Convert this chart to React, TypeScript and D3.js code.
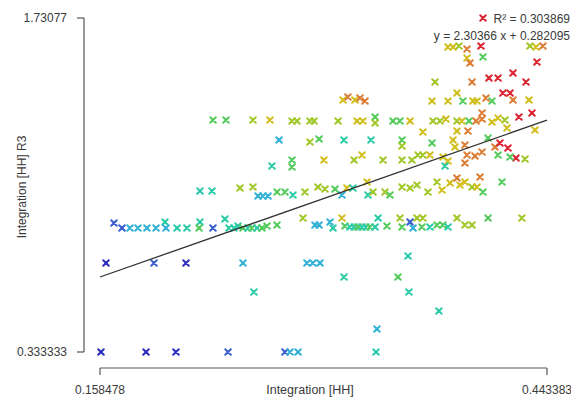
import React from "react";
import * as d3 from "d3";

// Integration [HH] (x)
const integrationHH: number[] = [
  0.1591, 0.1878, 0.2069, 0.2401, 0.2764, 0.2796, 0.2847, 0.3344, 0.3350, 0.3745,
  0.3554, 0.2566, 0.3140, 0.3484, 0.3548, 0.1623, 0.1929, 0.2133, 0.2496, 0.2904,
  0.2942, 0.2987, 0.1674, 0.1725, 0.1776, 0.1827, 0.1884, 0.1942, 0.1999, 0.2005,
  0.2076, 0.2139, 0.2222, 0.2216, 0.2305, 0.2381, 0.2407, 0.2439, 0.2464, 0.2496,
  0.2528, 0.2554, 0.2585, 0.2617, 0.2649, 0.2713, 0.2879, 0.2955, 0.3051, 0.3070,
  0.3127, 0.3146, 0.3178, 0.3204, 0.3229, 0.3255, 0.3280, 0.3306, 0.3338, 0.3357,
  0.3414, 0.3497, 0.3510, 0.3561, 0.3580, 0.3605, 0.3643, 0.3637, 0.3688, 0.3733,
  0.3771, 0.3803, 0.3860, 0.3911, 0.3956, 0.4058, 0.4274, 0.2981,
  0.2222, 0.2299, 0.2477, 0.2560, 0.2592, 0.2624, 0.2656, 0.2713, 0.2764, 0.2815,
  0.2891, 0.2974, 0.3019, 0.3083, 0.3127, 0.3159, 0.3197, 0.3287, 0.3293, 0.3325,
  0.3401, 0.3433, 0.3510, 0.3561, 0.3605, 0.3675, 0.3733, 0.3765, 0.3816, 0.3860,
  0.3879, 0.3911, 0.3956, 0.3988, 0.4007, 0.4026, 0.4147,
  0.2681, 0.2809, 0.2809, 0.3012, 0.3204, 0.3255, 0.3389, 0.3510, 0.3573, 0.3612,
  0.3643, 0.3688, 0.3771, 0.3803, 0.3784, 0.3911, 0.3924, 0.3975, 0.4020, 0.4102,
  0.4134, 0.4185, 0.4236, 0.4122, 0.4198, 0.4294,
  0.2726, 0.2923, 0.2981, 0.3140, 0.3312, 0.3510, 0.3510, 0.3701, 0.3835, 0.3847,
  0.3911, 0.4058,
  0.3643, 0.3860, 0.3930, 0.4179, 0.4357,
  0.2305, 0.2388, 0.2560, 0.2668, 0.2809, 0.2840, 0.2923, 0.2949, 0.3102, 0.3223,
  0.3261, 0.3338, 0.3338, 0.3452, 0.3497, 0.3561, 0.3707, 0.3752, 0.3790, 0.3860,
  0.3892, 0.3937, 0.3981, 0.4020, 0.4083, 0.4122, 0.4166,
  0.4020, 0.4255, 0.4338,
  0.3134, 0.3165, 0.3210, 0.3242, 0.3274, 0.3701, 0.3803, 0.3860, 0.3898, 0.3962,
  0.3988, 0.4045, 0.4083, 0.4153, 0.4198, 0.4217, 0.4319,
  0.3720, 0.3956, 0.4064, 0.4122, 0.4217, 0.4300,
  0.3924, 0.3943, 0.4026, 0.4370,
  0.3803, 0.3835, 0.3873, 0.3924, 0.4013, 0.4325, 0.4364, 0.4408,
  0.4026,
];

// Integration [HH] R3 (y)
const integrationR3: number[] = [
  0.3333, 0.3333, 0.3333, 0.3333, 0.3333, 0.3333, 0.3333, 0.3333, 0.4296, 0.5049,
  0.5844, 0.5844, 0.6471, 0.6471, 0.7350, 0.7057, 0.7057, 0.7057, 0.7057, 0.7057,
  0.7057, 0.7057, 0.8731, 0.8521, 0.8521, 0.8521, 0.8521, 0.8521, 0.8772, 0.8521,
  0.8521, 0.8521, 0.8772, 0.8521, 0.8521, 0.8898, 0.8521, 0.8521, 0.8605, 0.8521,
  0.8521, 0.8521, 0.8521, 0.8521, 0.8605, 0.8647, 0.8940, 0.8647, 0.8772, 0.8521,
  0.8940, 0.8605, 0.8563, 0.8563, 0.8563, 0.8563, 0.8563, 0.8563, 0.8563, 0.8940,
  0.8605, 0.8940, 0.8563, 0.8772, 0.8521, 0.8940, 0.8940, 0.8563, 0.8563, 0.8647,
  0.8647, 0.8563, 0.8940, 0.8647, 0.8647, 0.8940, 0.8940, 0.8647,
  1.0069, 1.0069, 1.0195, 1.0237, 0.9860, 0.9860, 0.9860, 1.0028, 1.0028, 0.9902,
  1.0028, 1.0237, 1.0153, 1.0153, 0.9902, 1.0195, 1.0195, 1.0446, 0.9902, 1.0028,
  1.0028, 0.9902, 1.0237, 1.0195, 1.0320, 1.0028, 1.0446, 1.0111, 1.0404, 1.0613,
  1.0320, 1.0446, 1.0237, 1.0237, 1.0655, 1.0028, 1.0446,
  1.1115, 1.1366, 1.1074, 1.1366, 1.1366, 1.1576, 1.1366, 1.1366, 1.1366, 1.1576,
  1.1576, 1.1576, 1.1492, 1.1325, 1.1115, 1.1241, 1.1576, 1.1534, 1.1701, 1.1910,
  1.2078, 1.1868, 1.1450, 1.1576, 1.1492, 1.1408,
  1.2203, 1.2119, 1.2245, 1.2203, 1.2203, 1.2203, 1.1952, 1.2078, 1.2203, 1.1910,
  1.1994, 1.2287,
  1.2538, 1.2580, 1.2580, 1.2705, 1.2622,
  1.3040, 1.3040, 1.3040, 1.3040, 1.2998, 1.2998, 1.2998, 1.2998, 1.2998, 1.2998,
  1.2998, 1.3165, 1.2914, 1.2998, 1.2998, 1.2998, 1.2998, 1.2998, 1.3082, 1.2998,
  1.2998, 1.2998, 1.2998, 1.3082, 1.2956, 1.3124, 1.3040,
  1.3333, 1.3165, 1.3333,
  1.3877, 1.4002, 1.3877, 1.3960, 1.3835, 1.3835, 1.3835, 1.4170, 1.3835, 1.3835,
  1.3835, 1.3960, 1.3835, 1.4170, 1.4170, 1.3877, 1.3877,
  1.4630, 1.4630, 1.4797, 1.4797, 1.5006, 1.4630,
  1.5634, 1.5425, 1.5676, 1.5467,
  1.6094, 1.6094, 1.6136, 1.6011, 1.6136, 1.6136, 1.6094, 1.6136,
  1.7308,
];

// colour band of each point (0 = dark blue ... 8 = red)
const colorBand: number[] = [
  0, 0, 0, 1, 1, 2, 2, 3, 2, 3,
  3, 3, 3, 4, 3, 0, 1, 0, 2, 2,
  2, 2, 1, 1, 2, 2, 2, 2, 3, 2,
  3, 3, 3, 4, 1, 3, 3, 3, 3, 4,
  3, 4, 3, 4, 4, 4, 5, 2, 2, 3,
  6, 4, 3, 3, 4, 3, 3, 4, 3, 3,
  4, 5, 4, 1, 2, 5, 5, 4, 3, 4,
  4, 3, 5, 5, 5, 4, 5, 2,
  3, 3, 5, 5, 2, 2, 2, 4, 4, 3,
  5, 5, 5, 4, 2, 6, 3, 6, 3, 5,
  5, 4, 5, 5, 5, 5, 5, 6, 6, 7,
  6, 6, 5, 6, 7, 4, 4,
  3, 4, 4, 6, 5, 6, 5, 5, 5, 5,
  5, 6, 6, 6, 3, 7, 7, 7, 7, 7,
  8, 8, 8, 4, 4, 5,
  2, 5, 4, 3, 3, 4, 5, 4, 6, 6,
  7, 4,
  6, 6, 7, 6, 6,
  4, 4, 5, 6, 5, 5, 5, 5, 5, 6,
  6, 4, 5, 4, 4, 6, 5, 5, 6, 5,
  6, 4, 7, 7, 6, 6, 5,
  7, 8, 8,
  6, 7, 6, 7, 7, 6, 6, 6, 4, 6,
  6, 7, 4, 8, 8, 7, 6,
  5, 7, 8, 8, 8, 8,
  6, 7, 4, 8,
  6, 6, 5, 7, 8, 5, 6, 7,
  8,
];

const bandColors = ["#2e2ebe", "#3a5ecc", "#34b2d6", "#2ecba8", "#56cc5e", "#a2c82c", "#d2bf1e", "#dc7e36", "#dc2634"];

const xTickValues = [0.158478, 0.443383];
const xTickLabels = ["0.158478", "0.443383"];
const yTickValues = [0.333333, 1.73077];
const yTickLabels = ["0.333333", "1.73077"];

const slope = 2.30366;
const intercept = 0.282095;
const rSquared = "0.303869";

const xTitle = "Integration [HH]";
const yTitle = "Integration [HH] R3";

export default function App() {
  const W = 571, H = 399;
  const x = d3.scaleLinear().domain([xTickValues[0], xTickValues[1]]).range([100, 547]);
  const y = d3.scaleLinear().domain([yTickValues[0], yTickValues[1]]).range([352, 18]);
  const color = (b: number) => bandColors[b];
  const font = "'Liberation Sans', Arial, sans-serif";
  const textColor = "#3a3a3a";
  const axisColor = "#555";
  const yAxisX = 84;
  const xAxisY = 368;

  const lineData: [number, number][] = xTickValues.map((v) => [v, slope * v + intercept]);
  const linePath = d3.line<[number, number]>().x((d) => x(d[0])).y((d) => y(d[1]))(lineData) || "";

  const s = 2.8;
  return (
    <svg width={W} height={H} style={{ position: "absolute", left: 0, top: 0, background: "#fff" }} fontFamily={font}>
      {/* Y axis */}
      <g>
        <line x1={yAxisX} x2={yAxisX} y1={y(yTickValues[1])} y2={y(yTickValues[0])} stroke={axisColor} strokeWidth={1.2} />
        {yTickValues.map((v, i) => (
          <g key={"yt" + i}>
            <line x1={yAxisX - 7} x2={yAxisX} y1={y(v)} y2={y(v)} stroke={axisColor} strokeWidth={1.2} />
            <text x={yAxisX - 17} y={y(v)} dy="0.35em" textAnchor="end" fontSize={12} fill={textColor}>
              {yTickLabels[i]}
            </text>
          </g>
        ))}
      </g>
      {/* X axis */}
      <g>
        <line x1={x(xTickValues[0])} x2={x(xTickValues[1])} y1={xAxisY} y2={xAxisY} stroke={axisColor} strokeWidth={1.2} />
        {xTickValues.map((v, i) => (
          <g key={"xt" + i}>
            <line x1={x(v)} x2={x(v)} y1={xAxisY} y2={xAxisY + 7} stroke={axisColor} strokeWidth={1.2} />
            <text x={x(v)} y={394} textAnchor="middle" fontSize={12} fill={textColor}>
              {xTickLabels[i]}
            </text>
          </g>
        ))}
      </g>
      <text x={310} y={394} textAnchor="middle" fontSize={12.5} fill={textColor}>{xTitle}</text>
      <text transform={`translate(26,187) rotate(-90)`} textAnchor="middle" fontSize={12} fill={textColor}>{yTitle}</text>

      {/* points */}
      <g fill="none" strokeWidth={2} strokeLinecap="round">
        {integrationHH.map((xv, i) => {
          const cx = x(xv), cy = y(integrationR3[i]);
          return (
            <path
              key={i}
              d={`M${cx - s},${cy - s}L${cx + s},${cy + s}M${cx - s},${cy + s}L${cx + s},${cy - s}`}
              stroke={color(colorBand[i])}
            />
          );
        })}
      </g>

      {/* regression line */}
      <path d={linePath} stroke="#333" strokeWidth={1.3} fill="none" />

      {/* equation */}
      <text x={570} y={23} textAnchor="end" fontSize={12} fill={textColor}>R² = {rSquared}</text>
      <text x={570} y={40} textAnchor="end" fontSize={12} fill={textColor}>y = {slope} x + {intercept}</text>
    </svg>
  );
}
